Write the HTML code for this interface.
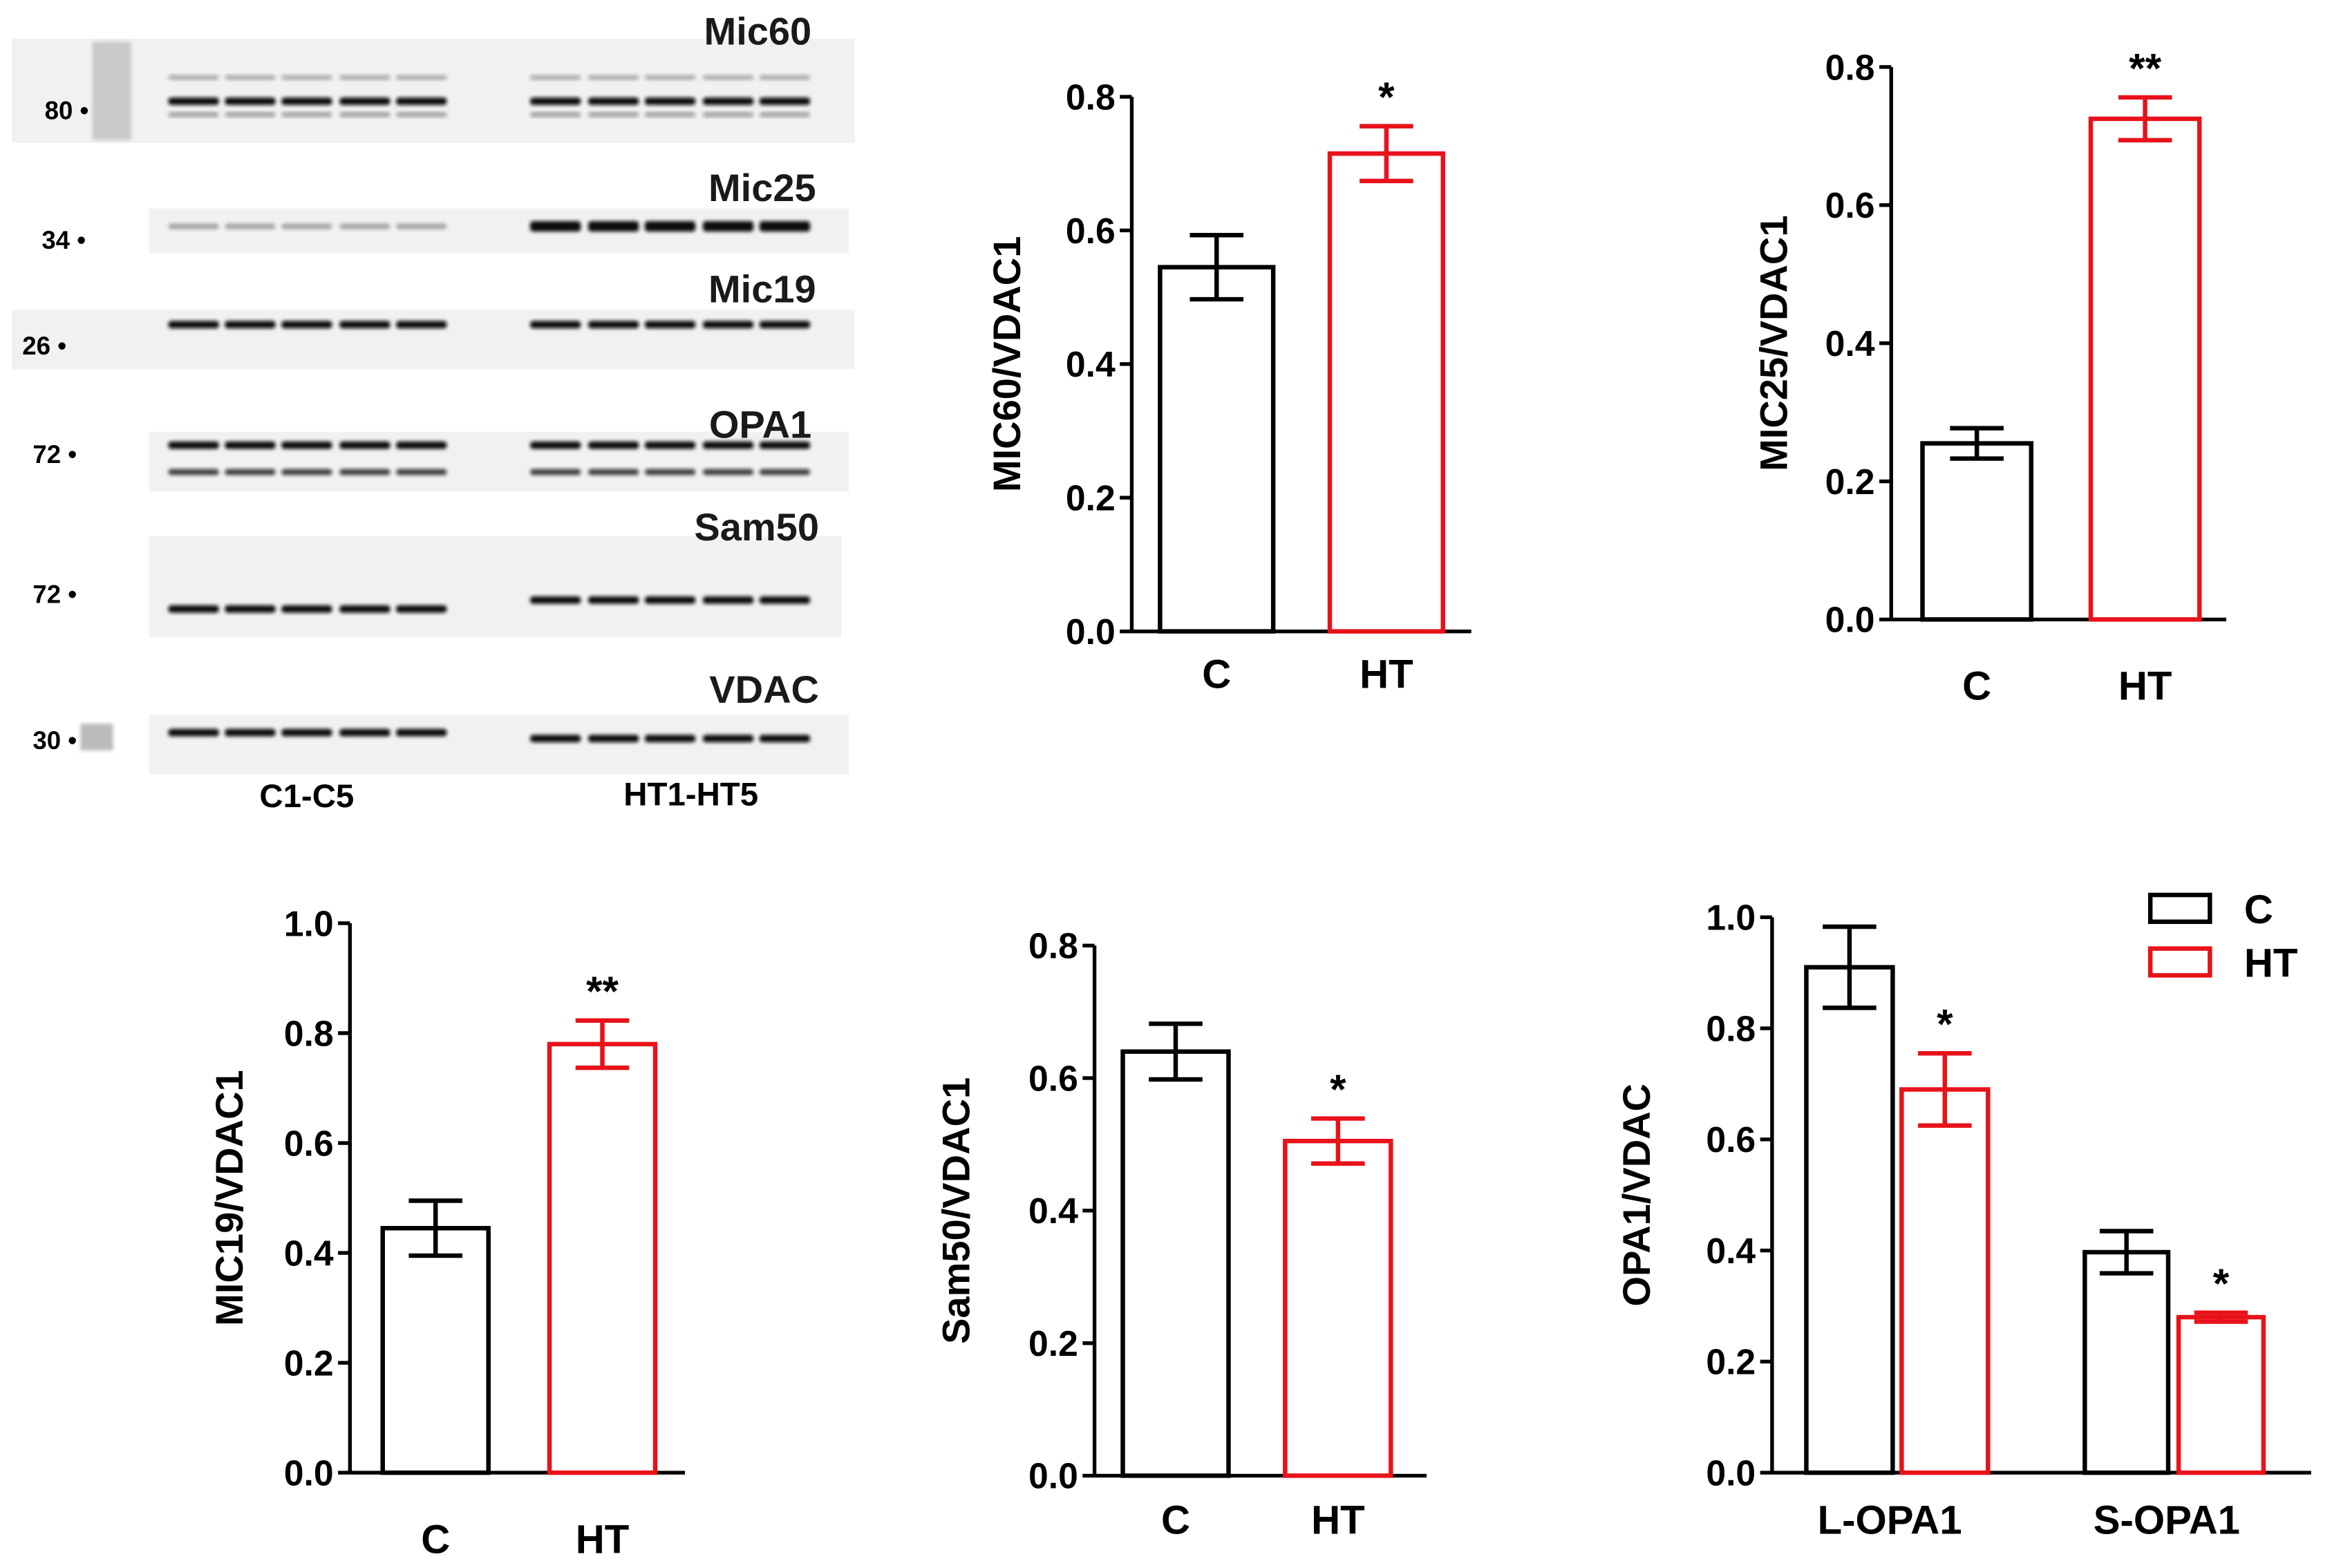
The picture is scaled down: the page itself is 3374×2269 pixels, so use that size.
<!DOCTYPE html>
<html><head><meta charset="utf-8"><style>
html,body{margin:0;padding:0;background:#fff;}
svg{display:block;font-family:"Liberation Sans",Arial,sans-serif;font-weight:bold;}
</style></head><body>
<svg id="fig" width="3374" height="2269" viewBox="0 0 1566 1053" preserveAspectRatio="none">
<defs><filter id="bl" x="-10%" y="-50%" width="120%" height="200%"><feGaussianBlur stdDeviation="1.2"/></filter></defs>
<g id="blots"></g>
<g id="charts"></g>
</svg>
<script>
// ---- data ----
const mic60Cats=["C","HT"], mic60Vals=[0.545,0.715], mic60Err=[0.048,0.041], mic60Sig=["","*"];
const mic25Cats=["C","HT"], mic25Vals=[0.255,0.725], mic25Err=[0.022,0.031], mic25Sig=["","**"];
const mic19Cats=["C","HT"], mic19Vals=[0.445,0.78], mic19Err=[0.05,0.043], mic19Sig=["","**"];
const sam50Cats=["C","HT"], sam50Vals=[0.64,0.505], sam50Err=[0.042,0.034], sam50Sig=["","*"];
const opaCats=["L-OPA1","S-OPA1"], opaC=[0.91,0.397], opaCErr=[0.073,0.038], opaHT=[0.69,0.28], opaHTErr=[0.065,0.008], opaSig=["*","*"];
const ticks08=[0,0.2,0.4,0.6,0.8], ticks10=[0,0.2,0.4,0.6,0.8,1.0];

const NS="http://www.w3.org/2000/svg";
const svg=document.getElementById('fig');
function el(tag,attrs,parent,text){const e=document.createElementNS(NS,tag);for(const k in attrs)e.setAttribute(k,attrs[k]);if(text!==undefined)e.textContent=text;(parent||svg).appendChild(e);return e;}

function chart(cfg){
  const g=el('g',{},document.getElementById('charts'));
  
  
  const y=v=>cfg.y0+(cfg.yTop-cfg.y0)*(v/cfg.max);
  const ya=el('line',{x1:cfg.ax,y1:y(0),x2:cfg.ax,y2:y(cfg.max),stroke:'#000','stroke-width':2.5},g);
  
  const xa=el('line',{x1:cfg.ax,y1:y(0),x2:cfg.axEnd,y2:y(0),stroke:'#000','stroke-width':2.5},g);
  
  cfg.ticks.forEach(t=>{
    el('line',{x1:cfg.ax-8,y1:y(t),x2:cfg.ax,y2:y(t),stroke:'#000','stroke-width':2.5},g);
    const tl=el('text',{x:cfg.ax-11,y:y(t)+8.5,'font-size':24,'text-anchor':'end'},g,t.toFixed(1));
    
  });
  const tt=el('text',{x:0,y:0,'font-size':26,'text-anchor':'middle',transform:`translate(${cfg.titleX},${(y(0)+y(cfg.max))/2}) rotate(-90)`},g,cfg.title);
  
  cfg.bars.forEach(b=>{
    const top=y(b.v);
    const r=el('rect',{x:b.x,y:top,width:b.w,height:y(0)-top,fill:'none',stroke:b.c,'stroke-width':3},g);
    
    const cx=b.x+b.w/2;
    el('line',{x1:cx,y1:y(b.v-b.e),x2:cx,y2:y(b.v+b.e),stroke:b.c,'stroke-width':3},g);
    el('line',{x1:cx-18,y1:y(b.v+b.e),x2:cx+18,y2:y(b.v+b.e),stroke:b.c,'stroke-width':3},g);
    el('line',{x1:cx-18,y1:y(b.v-b.e),x2:cx+18,y2:y(b.v-b.e),stroke:b.c,'stroke-width':3},g);
    if(b.s){const s=el('text',{x:cx,y:y(b.v+b.e)-10,'font-size':28,'text-anchor':'middle'},g,b.s);
      }
  });
  cfg.labels.forEach(l=>{const t=el('text',{x:l.x,y:y(0)+cfg.labDy,'font-size':27,'text-anchor':'middle'},g,l.t);
    });
  return g;
}
function simple(name,cats,vals,err,sig,ax,axEnd,y0,yTop,max,ticks,title,titleX,bx,bw,labDy){
  chart({name,ax,axEnd,y0,yTop,max,ticks,title,titleX,labDy,
    bars:cats.map((c,i)=>({n:c.toLowerCase(),x:bx[i],w:bw,v:vals[i],e:err[i],s:sig[i],c:i?'#e8121a':'#000'})),
    labels:cats.map((c,i)=>({t:c,x:bx[i]+bw/2}))});
}
simple('mic60-chart',mic60Cats,mic60Vals,mic60Err,mic60Sig,760,988,424,65,0.8,ticks08,'MIC60/VDAC1',685,[779,893],76,38);
simple('mic25-chart',mic25Cats,mic25Vals,mic25Err,mic25Sig,1270,1495,416,45,0.8,ticks08,'MIC25/VDAC1',1200,[1291,1404],73,54);
simple('mic19-chart',mic19Cats,mic19Vals,mic19Err,mic19Sig,235,460,989,620,1.0,ticks10,'MIC19/VDAC1',163,[257,369],71,54);
simple('sam50-chart',sam50Cats,sam50Vals,sam50Err,sam50Sig,735,958,991,635,0.8,ticks08,'Sam50/VDAC1',651,[754,863],71,39);
chart({name:'opa1-chart',ax:1190,axEnd:1552,y0:989,yTop:616,max:1.0,ticks:ticks10,title:'OPA1/VDAC',titleX:1108,labDy:41,
  bars:[{n:'l-opa1-c',x:1213,w:58,v:opaC[0],e:opaCErr[0],s:'',c:'#000'},{n:'l-opa1-ht',x:1277,w:58,v:opaHT[0],e:opaHTErr[0],s:opaSig[0],c:'#e8121a'},
        {n:'s-opa1-c',x:1400,w:56,v:opaC[1],e:opaCErr[1],s:'',c:'#000'},{n:'s-opa1-ht',x:1463,w:57,v:opaHT[1],e:opaHTErr[1],s:opaSig[1],c:'#e8121a'}],
  labels:[{t:opaCats[0],x:1269},{t:opaCats[1],x:1455}]});
const lg=el('g',{});

el('rect',{x:1444,y:601,width:40,height:18,fill:'none',stroke:'#000','stroke-width':3},lg);
el('text',{x:1507,y:620,'font-size':27},lg,'C');
el('rect',{x:1444,y:637,width:40,height:18,fill:'none',stroke:'#e8121a','stroke-width':3},lg);
el('text',{x:1507,y:656,'font-size':27},lg,'HT');

// ---- blots ----
const B=document.getElementById('blots');
const panels=[
 {name:'Mic60',bg:[8,26,566,70],lx:545,ly:30,mw:'80',mx:30,my:80,rows:[[52,0.35,3],[68,1,5],[77,0.4,3]]},
 {name:'Mic25',bg:[100,140,470,30],lx:548,ly:135,mw:'34',mx:28,my:167,rows:[[152,0.3,4,'c'],[152,1,7,'h']]},
 {name:'Mic19',bg:[8,208,566,40],lx:548,ly:203,mw:'26',mx:15,my:238,rows:[[218,1,5]]},
 {name:'OPA1',bg:[100,290,470,40],lx:545,ly:294,mw:'72',mx:22,my:311,rows:[[299,1,5],[317,0.8,4]]},
 {name:'Sam50',bg:[100,360,465,68],lx:550,ly:363,mw:'72',mx:22,my:405,rows:[[409,1,5,'c'],[403,1,5,'h']]},
 {name:'VDAC',bg:[100,480,470,40],lx:550,ly:472,mw:'30',mx:22,my:503,rows:[[492,1,5,'c'],[496,1,5,'h']]},
];
const cLanes=[130,168,206,245,283], hLanes=[373,412,450,489,527];
panels.forEach(p=>{
  const g=el('g',{},B);
  
  
  el('rect',{x:p.bg[0],y:p.bg[1],width:p.bg[2],height:p.bg[3],fill:'#f1f1f1'},g);
  p.rows.forEach(r=>{
    const lanes=r[3]==='c'?cLanes:r[3]==='h'?hLanes:cLanes.concat(hLanes);
    lanes.forEach(x=>el('rect',{x:x-17,y:r[0]-r[2]/2,width:34,height:r[2],rx:2,fill:'#111','fill-opacity':r[1],filter:'url(#bl)'},g));
  });
  const t=el('text',{x:p.lx,y:p.ly,'font-size':26,'text-anchor':'end',fill:'#1a1a1a'},g,p.name);
  
  const m=el('text',{x:p.mx,y:p.my,'font-size':17},g,p.mw+' •');
  
});
el('rect',{x:62,y:28,width:26,height:66,fill:'#c9c9c9',filter:'url(#bl)'},B);
el('rect',{x:54,y:486,width:22,height:18,fill:'#bbb',filter:'url(#bl)'},B);
const l1=el('text',{x:206,y:542,'font-size':22,'text-anchor':'middle'},B,'C1-C5');

const l2=el('text',{x:464,y:541,'font-size':22,'text-anchor':'middle'},B,'HT1-HT5');

</script>
</body></html>
